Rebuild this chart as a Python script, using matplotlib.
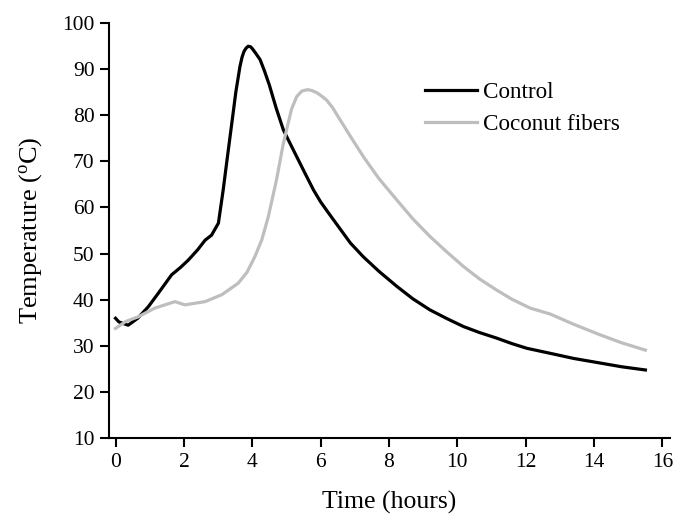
import matplotlib
matplotlib.use("Agg")
import matplotlib.pyplot as plt

plt.rcParams["font.family"] = ["Liberation Serif", "DejaVu Serif"]
plt.rcParams["mathtext.fontset"] = "custom"
plt.rcParams["mathtext.rm"] = "Liberation Serif"

# Temperature readings (hours, degC)
control_t = [0.0, 0.1, 0.37, 0.65, 0.96, 1.25, 1.64, 1.9, 2.13, 2.4, 2.62, 2.81,
             3.01, 3.15, 3.25, 3.44, 3.52, 3.64, 3.7, 3.76, 3.82, 3.88, 3.95, 4.0,
             4.1, 4.23, 4.36, 4.5, 4.7, 4.91, 5.05, 5.3, 5.55, 5.79, 6.0, 6.27,
             6.87, 7.25, 7.7, 8.23, 8.7, 9.2, 9.7, 10.18, 10.65, 11.15, 11.6,
             12.03, 12.72, 13.4, 14.18, 14.8, 15.5]
control_T = [36.0, 35.2, 34.5, 36.0, 38.5, 41.4, 45.4, 47.0, 48.6, 50.8, 52.9, 54.0,
             56.6, 63.8, 69.6, 80.4, 85.0, 90.5, 92.5, 93.8, 94.5, 94.9, 94.8, 94.4,
             93.4, 92.0, 89.5, 86.5, 81.5, 76.8, 74.7, 71.0, 67.3, 63.8, 61.2, 58.4,
             52.3, 49.3, 46.2, 42.9, 40.2, 37.8, 35.9, 34.2, 32.9, 31.7, 30.5,
             29.5, 28.4, 27.3, 26.3, 25.5, 24.8]

coconut_t = [0.0, 0.3, 0.66, 1.15, 1.74, 2.03, 2.62, 3.11, 3.59, 3.85, 4.08, 4.28,
             4.47, 4.71, 4.9, 5.01, 5.15, 5.3, 5.45, 5.62, 5.75, 5.9, 6.05, 6.18,
             6.35, 6.5, 6.87, 7.25, 7.7, 8.23, 8.7, 9.2, 9.7, 10.18, 10.65, 11.15,
             11.6, 12.13, 12.72, 13.4, 14.18, 14.8, 15.5]
coconut_T = [33.8, 35.3, 36.3, 38.2, 39.6, 38.9, 39.6, 41.1, 43.6, 46.0, 49.4, 53.0,
             58.0, 66.0, 73.5, 77.0, 81.3, 84.0, 85.2, 85.5, 85.3, 84.8, 84.0, 83.2,
             81.6, 79.8, 75.4, 71.0, 66.3, 61.6, 57.5, 53.7, 50.3, 47.2, 44.5, 42.1,
             40.1, 38.2, 36.9, 34.7, 32.4, 30.7, 29.1]

x_ticks = [0, 2, 4, 6, 8, 10, 12, 14, 16]
y_ticks = [10, 20, 30, 40, 50, 60, 70, 80, 90, 100]

fig = plt.figure(figsize=(6.75, 5.21), dpi=100)
ax = fig.add_axes([0.1615, 0.1587, 0.9926 - 0.1615, 0.9564 - 0.1587])

ax.plot(control_t, control_T, color="black", lw=2.3, label="Control")
ax.plot(coconut_t, coconut_T, color="#bebebe", lw=2.3, label="Coconut fibers")

ax.set_xlim(-0.19, 16.22)
ax.set_ylim(10, 100)
ax.set_xticks(x_ticks)
ax.set_yticks(y_ticks)

for side in ["top", "right"]:
    ax.spines[side].set_visible(False)
for side in ["left", "bottom"]:
    ax.spines[side].set_linewidth(1.5)
ax.tick_params(direction="out", length=6.5, width=1.5, labelsize=15.5, pad=4)

ax.set_xlabel("Time (hours)", fontsize=18.5, labelpad=14)
ax.set_ylabel(r"Temperature ($\mathregular{^{o}}$C)", fontsize=19, labelpad=13)

ax.legend(loc="upper left", bbox_to_anchor=(425 / 675, 1 - 82 / 521),
          bbox_transform=fig.transFigure, frameon=False, fontsize=16.7,
          handlelength=2.25, handletextpad=0.25, labelspacing=0.45,
          borderpad=0, borderaxespad=0)

fig.savefig("out.png", dpi=100, facecolor="white")
